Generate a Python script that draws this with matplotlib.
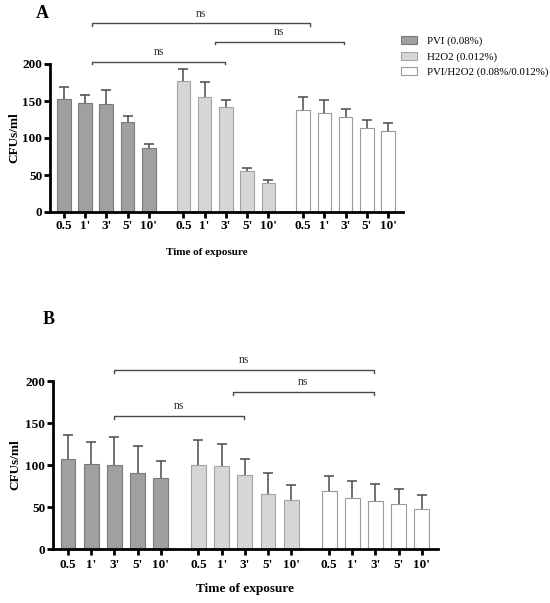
import matplotlib
matplotlib.use("Agg")
import matplotlib.pyplot as plt
from matplotlib.patches import Patch
import numpy as np

plt.rcParams["font.family"] = ["Liberation Serif", "DejaVu Serif"]

# data
TIMES = ["0.5", "1'", "3'", "5'", "10'"]
GROUPS = ["PVI (0.08%)", "H2O2 (0.012%)", "PVI/H2O2 (0.08%/0.012%)"]

a_pvi = [153, 147, 146, 121, 86]
a_pvi_err = [16, 11, 19, 9, 6]
a_h2o2 = [177, 156, 142, 55, 39]
a_h2o2_err = [16, 20, 10, 5, 4]
a_mix = [138, 134, 128, 114, 110]
a_mix_err = [17, 18, 11, 11, 10]

b_pvi = [107, 101, 100, 90, 84]
b_pvi_err = [29, 26, 33, 33, 21]
b_h2o2 = [100, 99, 88, 66, 58]
b_h2o2_err = [30, 26, 19, 24, 18]
b_mix = [69, 61, 57, 54, 48]
b_mix_err = [18, 20, 20, 18, 16]

# brackets: (x start, x end, y level) in bar index / data units
a_brackets = [(1.35, 9.6 + 2.0, 255), (5.6 + 1.5, 11.2 + 2.0, 230), (1.35, 5.6 + 2.0, 203)]
b_brackets = [(2.0, 11.2 + 2.0, 213), (5.6 + 1.5, 11.2 + 2.0, 187), (2.0, 5.6 + 2.0, 158)]

FILLS = ["#a0a0a0", "#d6d6d6", "#ffffff"]
EDGES = ["#7a7a7a", "#a3a3a3", "#9a9a9a"]
GROUP_X0 = [0.0, 5.63, 11.27]


def draw_panel(ax, series, errs, brackets, xlabel_size, xpad):
    xs_all, labels_all = [], []
    for g, (vals, err) in enumerate(zip(series, errs)):
        xs = GROUP_X0[g] + np.arange(len(TIMES))
        ax.bar(xs, vals, width=0.64, color=FILLS[g], edgecolor=EDGES[g],
               linewidth=0.8, zorder=2)
        eb = ax.errorbar(xs, vals, yerr=[np.zeros(len(err)), err], fmt="none",
                         ecolor="#4a4a4a", elinewidth=1.1, capsize=3.3,
                         capthick=1.1, zorder=3)
        eb[1][0].set_visible(False)  # hide the lower cap sitting on the bar
        xs_all.extend(xs)
        labels_all.extend(TIMES)

    ax.set_xlim(-0.65, 15.97)
    ax.set_ylim(0, 200)
    ax.set_yticks([0, 50, 100, 150, 200])
    ax.set_xticks(xs_all)
    ax.set_xticklabels(labels_all)
    for lab in ax.get_xticklabels() + ax.get_yticklabels():
        lab.set_fontweight("bold")
        lab.set_fontsize(9.5)
    ax.tick_params(axis="both", width=2, length=4, direction="out")
    ax.tick_params(axis="x", pad=xpad)
    ax.tick_params(axis="y", pad=1.5)
    for s in ("top", "right"):
        ax.spines[s].set_visible(False)
    ax.spines["left"].set_linewidth(2)
    ax.spines["bottom"].set_linewidth(2)
    ax.set_ylabel("CFUs/ml", fontsize=9.5, fontweight="bold")
    ax.set_xlabel("Time of exposure", fontsize=xlabel_size, fontweight="bold")

    for x0, x1, y in brackets:
        ax.plot([x0, x0, x1, x1], [y - 3.5, y, y, y - 3.5], color="#4a4a4a",
                lw=1.0, clip_on=False, zorder=4)
        ax.text((x0 + x1) / 2, y + 5, "ns", ha="center", va="bottom",
                fontsize=8.5, color="#333333", clip_on=False)


fig = plt.figure(figsize=(5.5, 6.03), dpi=100)
fig.patch.set_facecolor("white")

ax_a = fig.add_axes([50 / 550, 1 - 212 / 603, 353 / 550, 148 / 603])
draw_panel(ax_a, [a_pvi, a_h2o2, a_mix], [a_pvi_err, a_h2o2_err, a_mix_err],
           a_brackets, 8, 1.5)
ax_a.xaxis.set_label_coords(0.445, -0.245)
ax_a.yaxis.set_label_coords(-0.083, 0.5)

ax_b = fig.add_axes([53 / 550, 1 - 549 / 603, 385 / 550, 168 / 603])
draw_panel(ax_b, [b_pvi, b_h2o2, b_mix], [b_pvi_err, b_h2o2_err, b_mix_err],
           b_brackets, 9.5, 3.5)
ax_b.xaxis.set_label_coords(0.5, -0.2)
ax_b.yaxis.set_label_coords(-0.083, 0.5)

fig.text(36 / 550, 1 - 13 / 603, "A", fontsize=13, fontweight="bold",
         ha="left", va="center")
fig.text(43 / 550, 1 - 319 / 603, "B", fontsize=13, fontweight="bold",
         ha="left", va="center")

handles = [Patch(facecolor=FILLS[i], edgecolor=EDGES[i], linewidth=0.8,
                 label=GROUPS[i]) for i in range(3)]
fig.legend(handles=handles, loc="upper left",
           bbox_to_anchor=(401 / 550, 1 - 36 / 603), frameon=False,
           fontsize=7.8, handlelength=1.5, handleheight=0.8,
           handletextpad=0.9, labelspacing=0.5, borderpad=0,
           borderaxespad=0)

fig.savefig("out.png", dpi=100, facecolor="white")
